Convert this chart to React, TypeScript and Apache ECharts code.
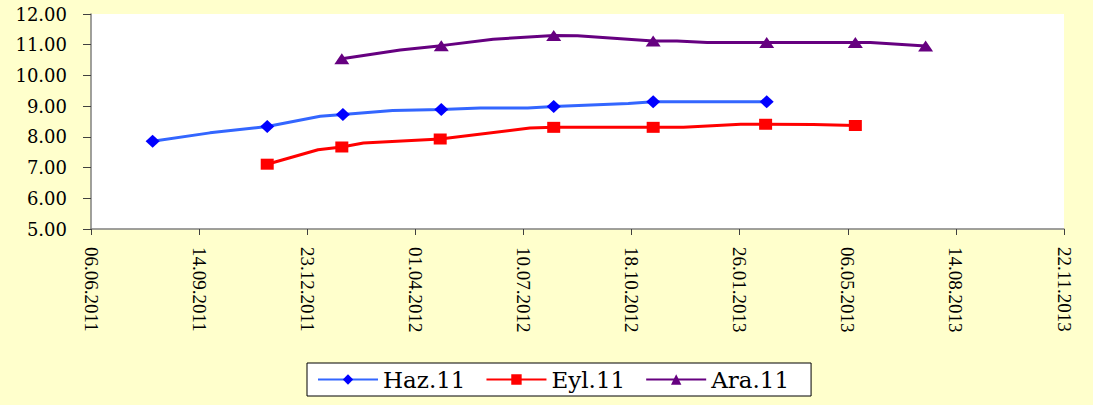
import React, { useEffect, useRef } from "react";
import * as echarts from "echarts";

const BASE = Date.UTC(2011, 5, 6);
const DAY = 86400000;

const xTickMin = 0;
const xTickMax = 900;
const xTickStep = 100;
const yMin = 5;
const yMax = 12;
const yStep = 1;

const seriesNames = ["Haz.11", "Eyl.11", "Ara.11"];

const hazDates = ["2011-08-02", "2011-09-24", "2011-11-16", "2012-01-04", "2012-01-25", "2012-03-11", "2012-04-25", "2012-05-31", "2012-07-14", "2012-08-07", "2012-10-15", "2012-11-07", "2013-02-20"];
const hazValues = [7.86, 8.13, 8.34, 8.67, 8.73, 8.86, 8.89, 8.94, 8.94, 8.99, 9.09, 9.14, 9.14];
const hazMarked = [1, 0, 1, 0, 1, 0, 1, 0, 0, 1, 0, 1, 1];

const eylDates = ["2011-11-16", "2012-01-02", "2012-01-24", "2012-02-13", "2012-04-24", "2012-07-16", "2012-08-07", "2012-11-07", "2012-12-05", "2013-01-27", "2013-02-19", "2013-04-04", "2013-05-13"];
const eylValues = [7.11, 7.58, 7.67, 7.8, 7.93, 8.29, 8.31, 8.31, 8.31, 8.41, 8.41, 8.4, 8.37];
const eylMarked = [1, 0, 1, 0, 1, 0, 1, 1, 0, 0, 1, 0, 1];

const araDates = ["2012-01-24", "2012-03-18", "2012-04-25", "2012-06-12", "2012-08-07", "2012-08-29", "2012-11-07", "2012-11-29", "2012-12-27", "2013-02-20", "2013-05-13", "2013-05-27", "2013-07-17"];
const araValues = [10.54, 10.83, 10.97, 11.18, 11.3, 11.29, 11.12, 11.12, 11.07, 11.07, 11.07, 11.07, 10.96];
const araMarked = [1, 0, 1, 0, 1, 0, 1, 0, 0, 1, 1, 0, 1];

function dayOf(s: string): number {
  const [y, m, d] = s.split("-").map(Number);
  return Math.round((Date.UTC(y, m - 1, d) - BASE) / DAY);
}

function fmtDay(v: number): string {
  const dt = new Date(BASE + v * DAY);
  const dd = String(dt.getUTCDate()).padStart(2, "0");
  const mm = String(dt.getUTCMonth() + 1).padStart(2, "0");
  return `${dd}.${mm}.${dt.getUTCFullYear()}`;
}

function build(dates: string[], values: number[], marked: number[]) {
  return dates.map((d, i) => {
    const item: any = { value: [dayOf(d), values[i]] };
    if (!marked[i]) item.symbol = "none";
    return item;
  });
}

export default function App() {
  const ref = useRef<HTMLDivElement>(null);
  useEffect(() => {
    if (!ref.current) return;
    const chart = echarts.init(ref.current, null, { renderer: "svg" });
    const mkSeries = (name: string, data: any[], lineColor: string, markColor: string, symbol: string, size: any) => ({
      name,
      type: "line",
      data,
      symbol,
      symbolSize: size,
      showAllSymbol: true,
      lineStyle: { color: lineColor, width: 3 },
      itemStyle: { color: markColor },
      emphasis: { disabled: true },
    });
    chart.setOption({
      animation: false,
      backgroundColor: "#FFFFCC",
      grid: {
        left: 91,
        right: 29,
        top: 14,
        bottom: 176,
        show: true,
        backgroundColor: "#FFFFFF",
        borderWidth: 0,
        containLabel: false,
        outerBoundsMode: "none",
      },
      legend: {
        left: 307,
        top: 363,
        data: seriesNames,
        orient: "horizontal",
        itemWidth: 60,
        itemHeight: 13,
        itemGap: 20,
        padding: [5, 22, 5, 10],
        borderColor: "#000000",
        borderWidth: 1,
        backgroundColor: "#FFFFFF",
        textStyle: { fontFamily: "DejaVu Serif", fontSize: 23, color: "#000000" },
      },
      xAxis: {
        type: "value",
        min: xTickMin,
        max: xTickMax,
        interval: xTickStep,
        axisLine: { show: true, lineStyle: { color: "#808080", width: 1.5 } },
        axisTick: { show: true, length: 6, lineStyle: { color: "#404040" } },
        splitLine: { show: false },
        axisLabel: {
          rotate: -90,
          margin: 18,
          formatter: (v: number) => fmtDay(v),
          fontFamily: "Liberation Serif",
          fontSize: 19,
          color: "#000000",
        },
      },
      yAxis: {
        type: "value",
        min: yMin,
        max: yMax,
        interval: yStep,
        axisLine: { show: true, lineStyle: { color: "#808080", width: 1.5 } },
        axisTick: { show: true, length: 8, lineStyle: { color: "#404040" } },
        splitLine: { show: false },
        axisLabel: {
          margin: 24,
          formatter: (v: number) => v.toFixed(2),
          fontFamily: "DejaVu Serif",
          fontSize: 18,
          color: "#000000",
        },
      },
      series: [
        mkSeries(seriesNames[0], build(hazDates, hazValues, hazMarked), "#3366FF", "#0000FF", "diamond", [14, 13]),
        mkSeries(seriesNames[1], build(eylDates, eylValues, eylMarked), "#FF0000", "#FF0000", "rect", [13, 11]),
        mkSeries(seriesNames[2], build(araDates, araValues, araMarked), "#660080", "#660080", "triangle", [15, 11]),
      ],
    });
    return () => chart.dispose();
  }, []);
  return <div ref={ref} style={{ position: "fixed", left: 0, top: 0, width: 1093, height: 405 }} />;
}
